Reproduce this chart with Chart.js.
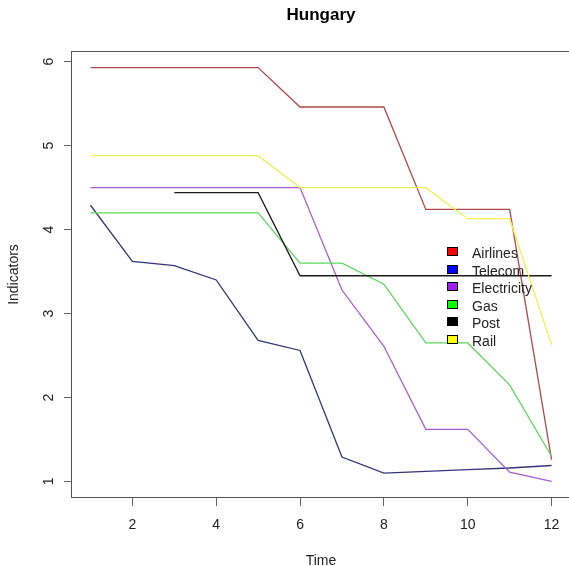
<!DOCTYPE html>
<html>
<head>
<meta charset="utf-8">
<title>Hungary</title>
<script src="https://cdn.jsdelivr.net/npm/chart.js@4/dist/chart.umd.min.js"></script>
<style>
  html, body { margin: 0; padding: 0; overflow: hidden; background: #fff; }
  canvas { display: block; }
</style>
</head>
<body>
<canvas id="chart" width="572" height="566"></canvas>
<script>
// values
const time = [1, 2, 3, 4, 5, 6, 7, 8, 9, 10, 11, 12]
const airlines = [5.93, 5.93, 5.93, 5.93, 5.93, 5.46, 5.46, 5.46, 4.24, 4.24, 4.24, 1.26]
const telecom = [4.29, 3.62, 3.57, 3.40, 2.68, 2.56, 1.29, 1.10, 1.12, 1.14, 1.16, 1.19]
const electricity = [4.50, 4.50, 4.50, 4.50, 4.50, 4.50, 3.28, 2.61, 1.62, 1.62, 1.11, 1.00]
const gas = [4.20, 4.20, 4.20, 4.20, 4.20, 3.60, 3.60, 3.35, 2.65, 2.65, 2.15, 1.30]
const post = [null, null, 4.44, 4.44, 4.44, 3.45, 3.45, 3.45, 3.45, 3.45, 3.45, 3.45]
const rail = [4.88, 4.88, 4.88, 4.88, 4.88, 4.50, 4.50, 4.50, 4.50, 4.13, 4.13, 2.63]

const seriesNames = ['Airlines', 'Telecom', 'Electricity', 'Gas', 'Post', 'Rail']
const seriesValues = [airlines, telecom, electricity, gas, post, rail]
const xTicks = [2, 4, 6, 8, 10, 12]
const yTicks = [1, 2, 3, 4, 5, 6]

const lineColors = ['#b04848', '#34347a', '#a85cd4', '#5cd85c', '#1a1a1a', '#f0f050']
const keyColors = ['#ff0000', '#0000ff', '#a020f0', '#00ff00', '#000000', '#ffff00']

// R style axis ranges: data range plus 4% each side
const allY = seriesValues.flat().filter(v => v !== null)
const yLo = Math.min(...allY), yHi = Math.max(...allY)
const yPad = (yHi - yLo) * 0.04
const xPad = (time[time.length - 1] - time[0]) * 0.04

const FONT = '"Liberation Sans", Arial, sans-serif'

const datasets = seriesNames.map((name, i) => ({
  label: name,
  data: time.map((t, j) => ({ x: t, y: seriesValues[i][j] })),
  borderColor: lineColors[i],
  backgroundColor: lineColors[i],
  borderWidth: 1.3,
  pointRadius: 0,
  tension: 0,
  fill: false,
  spanGaps: false,
  order: seriesNames.length - i
}))

const decor = {
  id: 'decor',
  afterDraw(chart) {
    const { ctx, chartArea: a, scales } = chart
    ctx.save()

    // plot box
    ctx.strokeStyle = '#555'
    ctx.lineWidth = 1
    ctx.strokeRect(a.left - 0.5, a.top + 0.5, a.right - a.left, a.bottom - a.top - 1)

    // y tick labels, rotated like R
    ctx.fillStyle = '#222'
    ctx.font = '14px ' + FONT
    ctx.textAlign = 'center'
    ctx.textBaseline = 'alphabetic'
    yTicks.forEach(v => {
      const py = scales.y.getPixelForValue(v)
      ctx.save()
      ctx.translate(53, py)
      ctx.rotate(-Math.PI / 2)
      ctx.fillText(String(v), 0, 0)
      ctx.restore()
    })

    // title and axis titles
    const cx = (a.left + a.right) / 2
    ctx.fillStyle = '#000'
    ctx.font = 'bold 17px ' + FONT
    ctx.fillText('Hungary', cx, 20)
    ctx.fillStyle = '#222'
    ctx.font = '14px ' + FONT
    ctx.fillText('Time', cx, 565)
    ctx.save()
    ctx.translate(18, (a.top + a.bottom) / 2)
    ctx.rotate(-Math.PI / 2)
    ctx.fillText('Indicators', 0, 0)
    ctx.restore()

    // legend, no frame
    ctx.textAlign = 'left'
    seriesNames.forEach((name, i) => {
      const cy = 251 + i * 17.6
      ctx.fillStyle = keyColors[i]
      ctx.fillRect(447, Math.round(cy) - 4, 11, 9)
      ctx.strokeStyle = '#000'
      ctx.strokeRect(447.5, Math.round(cy) - 3.5, 10, 8)
      ctx.fillStyle = '#222'
      ctx.fillText(name, 472, cy + 7)
    })
    ctx.restore()
  }
}

new Chart(document.getElementById('chart'), {
  type: 'line',
  data: { datasets },
  options: {
    responsive: false,
    devicePixelRatio: 1,
    animation: false,
    layout: { padding: { left: 0, top: 51, right: 2, bottom: 0 } },
    plugins: {
      legend: { display: false },
      title: { display: false },
      tooltip: { enabled: false }
    },
    scales: {
      x: {
        type: 'linear',
        min: time[0] - xPad,
        max: time[time.length - 1] + xPad,
        afterBuildTicks: scale => { scale.ticks = xTicks.map(v => ({ value: v })) },
        afterFit: scale => { scale.height = 68 },
        border: { display: false },
        grid: { drawOnChartArea: false, tickLength: 8, color: '#666' },
        ticks: { color: '#222', font: { family: FONT, size: 14 }, padding: 11, maxRotation: 0 }
      },
      y: {
        type: 'linear',
        min: yLo - yPad,
        max: yHi + yPad,
        afterBuildTicks: scale => { scale.ticks = yTicks.map(v => ({ value: v })) },
        afterFit: scale => { scale.width = 72 },
        border: { display: false },
        grid: { drawOnChartArea: false, tickLength: 8, color: '#666' },
        ticks: { display: false }
      }
    }
  },
  plugins: [decor]
})
</script>
</body>
</html>
